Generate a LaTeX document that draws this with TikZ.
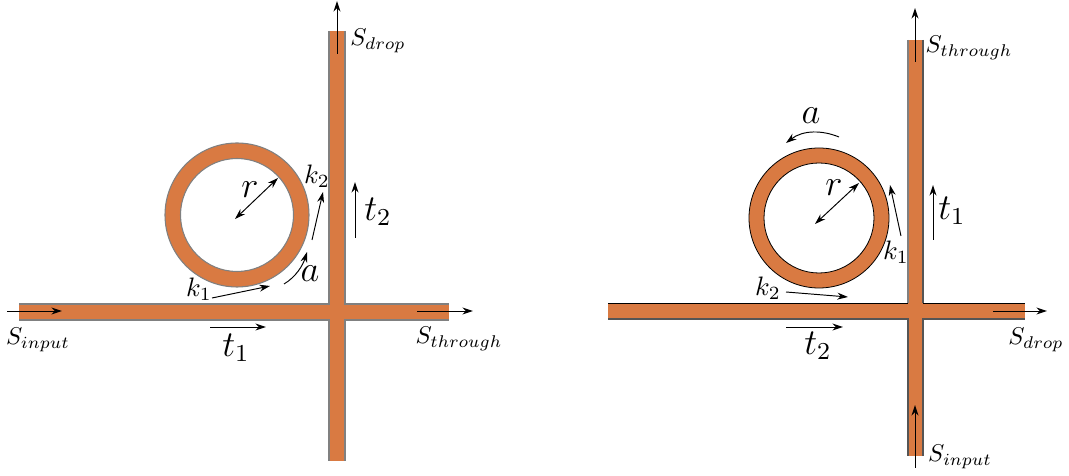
\documentclass[tikz,border=0pt]{standalone}
\usetikzlibrary{arrows.meta}
\definecolor{wg}{HTML}{D97A42}
\definecolor{edgeg}{HTML}{808080}
\definecolor{edged}{HTML}{555555}
\tikzset{
 arr/.style={-{Stealth[length=4pt,width=2.6pt]},line width=0.36pt,black},
 darr/.style={{Stealth[length=4pt,width=2.6pt]}-{Stealth[length=4pt,width=2.6pt]},line width=0.36pt,black},
 lab/.style={inner sep=0pt,font=\normalsize},
 slab/.style={inner sep=0pt,font=\normalsize,scale=0.91},
 big/.style={inner sep=0pt,font=\large,scale=1.14},
 ringl/.style={line width=0.4pt,draw=edgeg},
 ringr/.style={line width=0.3pt,draw=black},
}
\begin{document}
\begin{tikzpicture}[x=0.375pt,y=-0.375pt]
\useasboundingbox (0,0) rectangle (1069,476);
% left device
\fill[wg] (19,304) rectangle (449,320);
\fill[wg] (329,31) rectangle (345,461);
\draw[ringl] (19,304) -- (329,304) -- (329,31);
\draw[ringl] (345,31) -- (345,304) -- (449,304);
\draw[ringl] (19,320) -- (329,320) -- (329,461);
\draw[ringl] (345,461) -- (345,320) -- (449,320);
\fill[wg,even odd rule,draw=edgeg,line width=0.4pt] (237,215) circle[radius=72] (237,215) circle[radius=56.5];
% right device
\fill[wg] (608,303) rectangle (1025,319);
\fill[wg] (908,40) rectangle (923,456);
\draw[ringr] (608,303) -- (908,303);
\draw[ringr] (923,303) -- (1025,303);
\draw[line width=0.4pt,edged] (608,319) -- (908,319) -- (908,456);
\draw[line width=0.4pt,edged] (923,456) -- (923,319) -- (1025,319);
\draw[line width=0.4pt,edgeg] (908,40) -- (908,303);
\draw[line width=0.4pt,edged] (923,40) -- (923,303);
\fill[wg,even odd rule,draw=black,line width=0.3pt] (819,218) circle[radius=70] (819,218) circle[radius=55];
% left arrows
\coordinate (a1s) at (7,311); \coordinate (a1e) at (62,311);
\coordinate (a2s) at (417,311); \coordinate (a2e) at (473,311);
\coordinate (a3s) at (337,54); \coordinate (a3e) at (337,1);
\coordinate (a4s) at (210,327); \coordinate (a4e) at (266,327);
\coordinate (a5s) at (355,238); \coordinate (a5e) at (355,182);
\coordinate (a6s) at (212,298); \coordinate (a6e) at (270,286);
\coordinate (a7s) at (312,240); \coordinate (a7e) at (323,192);
\coordinate (a8s) at (284,284); \coordinate (a8e) at (307,252);
\coordinate (a9s) at (235,219); \coordinate (a9e) at (278,178);
\draw[arr] (a1s) -- (a1e);
\draw[arr] (a2s) -- (a2e);
\draw[arr] (a3s) -- (a3e);
\draw[arr] (a4s) -- (a4e);
\draw[arr] (a5s) -- (a5e);
\draw[arr] (a6s) -- (a6e);
\draw[arr] (a7s) -- (a7e);
\draw[arr] (a8s) .. controls (296,277) and (303,265) .. (a8e);
\draw[darr] (a9s) -- (a9e);
% right arrows
\coordinate (b1s) at (993,311); \coordinate (b1e) at (1047,311);
\coordinate (b2s) at (915,62); \coordinate (b2e) at (915,8);
\coordinate (b3s) at (915,468); \coordinate (b3e) at (915,405);
\coordinate (b4s) at (786,327); \coordinate (b4e) at (843,327);
\coordinate (b5s) at (933,240); \coordinate (b5e) at (933,185);
\coordinate (b6s) at (786,292); \coordinate (b6e) at (848,297);
\coordinate (b7s) at (901,236); \coordinate (b7e) at (890,185);
\coordinate (b8s) at (839,137); \coordinate (b8e) at (786,143);
\coordinate (b9s) at (815,224); \coordinate (b9e) at (859,183);
\draw[arr] (b1s) -- (b1e);
\draw[arr] (b2s) -- (b2e);
\draw[arr] (b3s) -- (b3e);
\draw[arr] (b4s) -- (b4e);
\draw[arr] (b5s) -- (b5e);
\draw[arr] (b6s) -- (b6e);
\draw[arr] (b7s) -- (b7e);
\draw[arr] (b8s) .. controls (822,130) and (803,130) .. (b8e);
\draw[darr] (b9s) -- (b9e);
% left labels
\node[slab] (linput) at (38,340) {$S_{input}$};
\node[slab] (lthrough) at (459,339) {$S_{through}$};
\node[slab] (ldrop) at (378,41) {$S_{drop}$};
\node[big] (lt1) at (236,348) {$t_1$};
\node[big] (lt2) at (378,212) {$t_2$};
\node[lab] (lk1) at (199,289) {$k_1$};
\node[lab] (lk2) at (317,176) {$k_2$};
\node[big] (la) at (310,274) {$a$};
\node[big] (lr) at (250,190) {$r$};
% right labels
\node[slab] (rthrough) at (969,48) {$S_{through}$};
\node[slab] (rinput) at (960,457) {$S_{input}$};
\node[slab] (rdrop) at (1036,340) {$S_{drop}$};
\node[big] (rt2) at (818,346) {$t_2$};
\node[big] (rt1) at (952,211) {$t_1$};
\node[lab] (rk2) at (768,288) {$k_2$};
\node[lab] (rk1) at (896,252) {$k_1$};
\node[big] (ra) at (811,116) {$a$};
\node[big] (rr) at (834,188) {$r$};
\end{tikzpicture}
\end{document}
